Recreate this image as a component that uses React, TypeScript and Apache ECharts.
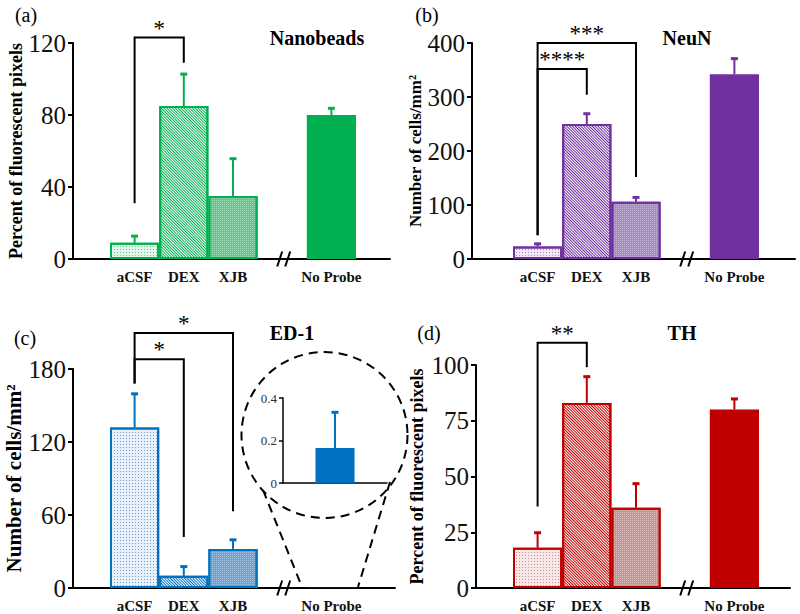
import React, { useEffect, useRef } from 'react';
import * as echarts from 'echarts';

// ---------- data ----------
const categories = ['aCSF', 'DEX', 'XJB', '', 'No Probe'];

const nanobeadsMean = [9, 85, 35, null, 80];
const nanobeadsSem = [4, 18, 21, null, 4];
const neunMean = [23, 250, 106, null, 342];
const neunSem = [6, 20, 9, null, 30];
const ed1Mean = [132, 10, 32, null, 0.165];
const ed1Sem = [28, 8, 8, null, null];
const thMean = [18, 83, 36, null, 80];
const thSem = [7, 12, 11, null, 5];

const ed1InsetCategories = ['No Probe'];
const ed1InsetMean = [0.165];
const ed1InsetSem = [0.17];

// brackets: [fromIndex, toIndex, topValue, leftLegEnd, rightLegEnd]
const nanobeadsBrackets = [[0, 1, 123, 31, 109]];
const nanobeadsStars = ['*'];
const neunBrackets = [[0, 1, 352, 44, 304], [0, 2, 400, 44, 152]];
const neunStars = ['****', '***'];
const ed1Brackets = [[0, 1, 188, 168, 42], [0, 2, 209.5, 168, 63]];
const ed1Stars = ['*', '*'];
const thBrackets = [[0, 1, 110, 36.5, 99]];
const thStars = ['**'];

const SERIF = 'Liberation Serif';

const panels = [
  {
    label: '(a)', title: 'Nanobeads', yName: 'Percent of fluorescent pixels',
    mean: nanobeadsMean, sem: nanobeadsSem, max: 120, interval: 40,
    brackets: nanobeadsBrackets, stars: nanobeadsStars,
    color: '#00B050', light: '#e3f6eb', mid: '#62c98c',
    gridA: { left: 73, top: 43, width: 317, height: 216 }, gridBLeft: 110, gridBWidth: 246,
    nameGap: 46, nameSize: 18, labelPos: [26, 15], titlePos: [317, 38],
  },
  {
    label: '(b)', title: 'NeuN', yName: 'Number of cells/mm\u00B2',
    mean: neunMean, sem: neunSem, max: 400, interval: 100,
    brackets: neunBrackets, stars: neunStars,
    color: '#7030A0', light: '#f1eaf6', mid: '#a88ac6',
    gridA: { left: 472, top: 43, width: 323, height: 216 }, gridBLeft: 513, gridBWidth: 246,
    nameGap: 45, nameSize: 17, labelPos: [427, 15], titlePos: [687, 38],
  },
  {
    label: '(c)', title: 'ED-1', yName: 'Number of cells/mm\u00B2',
    mean: ed1Mean, sem: ed1Sem, max: 180, interval: 60,
    brackets: ed1Brackets, stars: ed1Stars,
    color: '#0070C0', light: '#e8f1f9', mid: '#6fa3d4',
    gridA: { left: 73, top: 369, width: 322, height: 219 }, gridBLeft: 110, gridBWidth: 246,
    nameGap: 44, nameSize: 21, labelPos: [25, 338], titlePos: [292, 333],
  },
  {
    label: '(d)', title: 'TH', yName: 'Percent of fluorescent pixels',
    mean: thMean, sem: thSem, max: 100, interval: 25,
    brackets: thBrackets, stars: thStars,
    color: '#C00000', light: '#f8e9e9', mid: '#c69494',
    gridA: { left: 476, top: 365, width: 314, height: 223 }, gridBLeft: 513, gridBWidth: 246,
    nameGap: 50, nameSize: 18, labelPos: [429, 333], titlePos: [682, 333],
  },
];

function errorBarRender(color: string) {
  return (params: any, api: any) => {
    const x = api.value(0);
    const p0 = api.coord([x, api.value(1)]);
    const p1 = api.coord([x, api.value(2)]);
    return {
      type: 'group',
      children: [
        { type: 'line', shape: { x1: p0[0], y1: p0[1], x2: p1[0], y2: p1[1] }, style: { stroke: color, lineWidth: 2 } },
        { type: 'rect', shape: { x: p1[0] - 3.5, y: p1[1] - 1, width: 7, height: 3 }, style: { fill: color } },
      ],
    };
  };
}

function buildOption() {
  const grid: any[] = [];
  const xAxis: any[] = [];
  const yAxis: any[] = [];
  const series: any[] = [];
  const graphic: any[] = [];

  panels.forEach((p) => {
    const gA = grid.length;
    grid.push({ ...p.gridA, containLabel: false });
    grid.push({ left: p.gridBLeft, top: p.gridA.top, width: p.gridBWidth, height: p.gridA.height, containLabel: false });
    const gB = gA + 1;

    // grid A: visible axes
    xAxis.push({
      gridIndex: gA, type: 'value', min: 0, max: 1,
      axisLine: { show: true, onZero: false, lineStyle: { color: '#000', width: 2 } },
      axisTick: { show: false }, axisLabel: { show: false }, splitLine: { show: false },
    });
    yAxis.push({
      gridIndex: gA, type: 'value', min: 0, max: p.max, interval: p.interval,
      name: p.yName, nameLocation: 'middle', nameGap: p.nameGap,
      nameTextStyle: { fontFamily: SERIF, fontWeight: 'bold', fontSize: p.nameSize, color: '#000' },
      axisLine: { show: true, lineStyle: { color: '#000', width: 2 } },
      axisTick: { show: true, length: 5, lineStyle: { color: '#000', width: 2 } },
      axisLabel: { fontFamily: SERIF, fontSize: 25, color: '#111', margin: 7 },
      splitLine: { show: false },
    });
    // grid B: bars
    const xB = xAxis.length;
    xAxis.push({
      gridIndex: gB, type: 'category', data: categories,
      axisLine: { show: false }, axisTick: { show: false },
      axisLabel: { fontFamily: SERIF, fontWeight: 'bold', fontSize: 15, color: '#111', margin: 10, interval: 0 },
    });
    const yB = yAxis.length;
    yAxis.push({ gridIndex: gB, type: 'value', min: 0, max: p.max, show: false });

    const barData = p.mean.map((m, i) => {
      if (m == null) return '-';
      if (i === 0) {
        return {
          value: m,
          itemStyle: {
            color: p.light, borderColor: p.color, borderWidth: 2,
            decal: { symbol: 'rect', symbolSize: 1, dashArrayX: [1, 2], dashArrayY: [1, 2], color: p.mid },
          },
        };
      }
      if (i === 1) {
        return {
          value: m,
          itemStyle: {
            color: '#ffffff', borderColor: p.color, borderWidth: 2,
            decal: { symbol: 'rect', symbolSize: 1, dashArrayX: [1, 0], dashArrayY: [1, 1], rotation: Math.PI / 4, color: p.color },
          },
        };
      }
      if (i === 2) {
        return {
          value: m,
          itemStyle: {
            color: p.mid, borderColor: p.color, borderWidth: 2,
            decal: { symbol: 'rect', symbolSize: 1, dashArrayX: [1, 1], dashArrayY: [1, 1], color: 'rgba(255,255,255,0.35)' },
          },
        };
      }
      return { value: m, itemStyle: { color: p.color, borderWidth: 0 } };
    });

    series.push({
      type: 'bar', xAxisIndex: xB, yAxisIndex: yB, data: barData,
      barWidth: '100%', barGap: '0%', barCategoryGap: '0%', silent: true,
    });

    const errData: any[] = [];
    p.mean.forEach((m, i) => {
      const s = p.sem[i];
      if (m != null && s != null) errData.push([i, m, m + s]);
    });
    series.push({
      type: 'custom', xAxisIndex: xB, yAxisIndex: yB, data: errData, clip: false,
      renderItem: errorBarRender(p.color), z: 3,
    });

    const stars = p.stars;
    series.push({
      type: 'custom', xAxisIndex: xB, yAxisIndex: yB, data: p.brackets, clip: false, z: 4,
      encode: { x: [0, 1], y: [2, 3, 4] },
      renderItem: (params: any, api: any) => {
        const a = api.coord([api.value(0), api.value(3)]);
        const b = api.coord([api.value(0), api.value(2)]);
        const c = api.coord([api.value(1), api.value(2)]);
        const d = api.coord([api.value(1), api.value(4)]);
        return {
          type: 'group',
          children: [
            { type: 'polyline', shape: { points: [a, b, c, d] }, style: { stroke: '#000', lineWidth: 2, fill: null } },
            {
              type: 'text',
              style: {
                text: stars[params.dataIndex], x: (b[0] + c[0]) / 2, y: b[1] + 2,
                align: 'center', verticalAlign: 'bottom', font: `23px ${SERIF}`, fill: '#000',
              },
            },
          ],
        };
      },
    });

    // axis break mark at the blank category
    series.push({
      type: 'custom', xAxisIndex: xB, yAxisIndex: yB, data: [[3, 0]], clip: false, z: 5,
      renderItem: (params: any, api: any) => {
        const q = api.coord([api.value(0), api.value(1)]);
        return {
          type: 'group',
          children: [
            { type: 'line', shape: { x1: q[0] - 5, y1: q[1] + 7.5, x2: q[0], y2: q[1] - 7.5 }, style: { stroke: '#000', lineWidth: 2 } },
            { type: 'line', shape: { x1: q[0] + 3, y1: q[1] + 7.5, x2: q[0] + 8, y2: q[1] - 7.5 }, style: { stroke: '#000', lineWidth: 2 } },
          ],
        };
      },
    });

    graphic.push({ type: 'text', x: p.labelPos[0], y: p.labelPos[1], style: { text: p.label, font: `20px ${SERIF}`, fill: '#000', align: 'center', verticalAlign: 'middle' } });
    graphic.push({ type: 'text', x: p.titlePos[0], y: p.titlePos[1], style: { text: p.title, font: `bold 20px ${SERIF}`, fill: '#000', align: 'center', verticalAlign: 'middle' } });
  });

  // inset for ED-1 "No Probe"
  const gI = grid.length;
  grid.push({ left: 283, top: 398, width: 104, height: 85, containLabel: false });
  const xI = xAxis.length;
  xAxis.push({
    gridIndex: gI, type: 'category', data: ed1InsetCategories,
    axisLine: { show: true, lineStyle: { color: '#000', width: 1.5 } },
    axisTick: { show: false }, axisLabel: { show: false },
  });
  const yI = yAxis.length;
  yAxis.push({
    gridIndex: gI, type: 'value', min: 0, max: 0.4, interval: 0.2,
    axisLine: { show: true, lineStyle: { color: '#000', width: 1.5 } },
    axisTick: { show: true, length: 4, lineStyle: { color: '#000', width: 1.5 } },
    axisLabel: { fontFamily: SERIF, fontSize: 13, color: '#333', margin: 6 },
    splitLine: { show: false },
  });
  series.push({
    type: 'bar', xAxisIndex: xI, yAxisIndex: yI, data: ed1InsetMean, barWidth: 39,
    itemStyle: { color: '#0070C0' }, silent: true,
  });
  series.push({
    type: 'custom', xAxisIndex: xI, yAxisIndex: yI, clip: false, z: 3,
    data: ed1InsetMean.map((m, i) => [i, m, m + ed1InsetSem[i]]),
    renderItem: errorBarRender('#0070C0'),
  });

  // zoom circle and connector lines
  graphic.push({
    type: 'circle', shape: { cx: 324.5, cy: 435, r: 83 },
    style: { fill: null, stroke: '#000', lineWidth: 2, lineDash: [9, 6] }, z: 10,
  });
  graphic.push({
    type: 'line', shape: { x1: 263, y1: 490, x2: 302, y2: 587 },
    style: { stroke: '#000', lineWidth: 2, lineDash: [9, 6] }, z: 10,
  });
  graphic.push({
    type: 'line', shape: { x1: 390, y1: 482, x2: 358, y2: 587 },
    style: { stroke: '#000', lineWidth: 2, lineDash: [9, 6] }, z: 10,
  });

  return {
    animation: false,
    backgroundColor: '#ffffff',
    textStyle: { fontFamily: SERIF },
    grid, xAxis, yAxis, series, graphic,
  };
}

export default function App() {
  const ref = useRef<HTMLDivElement | null>(null);
  useEffect(() => {
    if (!ref.current) return;
    const chart = echarts.init(ref.current, null, { renderer: 'svg' });
    chart.setOption(buildOption() as any);
    return () => chart.dispose();
  }, []);
  return (
    <div
      ref={ref}
      style={{ position: 'fixed', left: 0, top: 0, width: 800, height: 614, background: '#fff' }}
    />
  );
}
